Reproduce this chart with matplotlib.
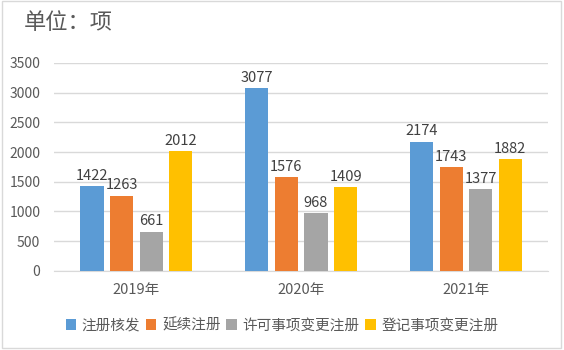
import matplotlib
matplotlib.use("Agg")
import matplotlib.pyplot as plt
import numpy as np
from matplotlib.patches import Rectangle

plt.rcParams['font.family'] = ['Noto Sans CJK SC', 'DejaVu Sans']

categories = ["2019年", "2020年", "2021年"]
series_names = ["注册核发", "延续注册", "许可事项变更注册", "登记事项变更注册"]
reg_issue = [1422, 3077, 2174]
renewal = [1263, 1576, 1743]
license_change = [661, 968, 1377]
record_change = [2012, 1409, 1882]
yticks = [0, 500, 1000, 1500, 2000, 2500, 3000, 3500]
title = "单位：项"

colors = ["#5B9BD5", "#ED7D31", "#A5A5A5", "#FFC000"]
text_color = "#595959"

fig = plt.figure(figsize=(5.64, 3.5), dpi=100)
ax = fig.add_axes([0.096, 0.226, 0.876, 0.594])

x = np.arange(len(categories))
width = 0.14
step = 0.18
all_series = [reg_issue, renewal, license_change, record_change]
for i, (vals, name, c) in enumerate(zip(all_series, series_names, colors)):
    pos = x + (i - 1.5) * step
    bars = ax.bar(pos, vals, width=width, color=c, label=name, zorder=3)
    for b, v in zip(bars, vals):
        ax.text(b.get_x() + b.get_width() / 2, v + 60, str(v), ha='center', va='bottom',
                fontsize=10.5, color="#404040")

ax.set_xlim(-0.5, 2.5)
ax.set_ylim(0, 3500)
ax.set_yticks(yticks)
ax.set_yticklabels([str(t) for t in yticks], fontsize=10, color=text_color)
ax.set_xticks(x)
ax.set_xticklabels(categories, fontsize=10.5, color=text_color)
ax.tick_params(axis='both', length=0)
ax.tick_params(axis='y', pad=10)
ax.tick_params(axis='x', pad=9)
ax.grid(axis='y', color="#D9D9D9", linewidth=1, zorder=0)
for s in ['top', 'right', 'left']:
    ax.spines[s].set_visible(False)
ax.spines['bottom'].set_color("#D9D9D9")

fig.text(0.042, 0.935, title, fontsize=16, color=text_color, ha='left', va='center')

leg = fig.legend(loc='center', bbox_to_anchor=(0.5, 0.07), ncol=4, frameon=False,
                 fontsize=10.5, handlelength=0.7, handleheight=0.7, handletextpad=0.4,
                 columnspacing=0.4, labelcolor=text_color)

fig.patches.append(Rectangle((0.004, 0.006), 0.99, 0.99, transform=fig.transFigure,
                             fill=False, edgecolor="#D9D9D9", linewidth=1))

fig.savefig("out.png", dpi=100)
